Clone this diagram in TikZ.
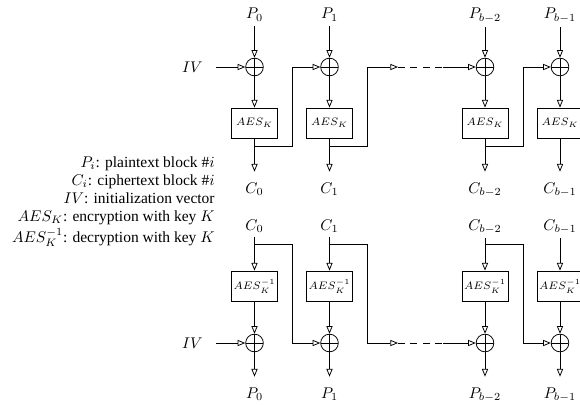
\documentclass[tikz,border=0pt]{standalone}
\usepackage[no-math]{fontspec}
\setmainfont{Liberation Serif}
\usetikzlibrary{arrows.meta}
\begin{document}
\begin{tikzpicture}[x=0.6452pt,y=-0.6452pt, line width=0.5pt,
  arr/.style={-{Triangle[open,length=5pt,width=4pt]}},
  xorn/.style={circle,draw,minimum size=11.4pt,inner sep=0pt,
    path picture={\draw (path picture bounding box.north)--(path picture bounding box.south)
      (path picture bounding box.west)--(path picture bounding box.east);}},
  aesbox/.style={draw,minimum width=29.7pt,minimum height=19.4pt,inner sep=0pt,font=\scriptsize},
  toplab/.style={anchor=base,inner xsep=0pt,inner ysep=2.7pt},
  botlab/.style={anchor=base,inner xsep=0pt,inner ysep=7pt},
  ivlab/.style={anchor=east,inner xsep=8.4pt,inner ysep=0pt},
  leg/.style={anchor=base east,inner sep=0pt},
  dashline/.style={dash pattern=on 4.5pt off 3.5pt}]
\useasboundingbox (0,0) rectangle (580,405);

% legend
\node[leg] (l1) at (215,167.5) {$P_i$: plaintext block \#$i$};
\node[leg] (l2) at (215,185.5) {$C_i$: ciphertext block \#$i$};
\node[leg] (l3) at (215,203.5) {$IV$: initialization vector};
\node[leg] (l4) at (215,221.5) {$AES_K$: encryption with key $K$};
\node[leg] (l5) at (215,242) {$AES_K^{-1}$: decryption with key $K$};

\foreach \i/\x/\s in {0/254.5/0,1/329.5/1,2/485/{b-2},3/560/{b-1}}{
  % encryption
  \node[toplab] (p\i) at (\x,19) {$P_{\s}$};
  \node[xorn] (x\i) at (\x,67) {};
  \node[aesbox] (e\i) at (\x,123) {$AES_K$};
  \node[botlab] (c\i) at (\x,193.5) {$C_{\s}$};
  \draw[arr] (p\i.south) -- (x\i.north);
  \draw[arr] (x\i.south) -- (e\i.north);
  \draw[arr] (e\i.south) -- (c\i.north);
  % decryption
  \node[toplab] (cb\i) at (\x,230) {$C_{\s}$};
  \node[aesbox] (d\i) at (\x,286) {$AES_K^{-1}$};
  \node[xorn] (y\i) at (\x,343) {};
  \node[botlab] (pb\i) at (\x,398.5) {$P_{\s}$};
  \draw[arr] (cb\i.south) -- (d\i.north);
  \draw[arr] (d\i.south) -- (y\i.north);
  \draw[arr] (y\i.south) -- (pb\i.north);
}

% IV inputs
\node[ivlab] (iva) at (216,67) {$IV$};
\draw[arr] (iva.east) -- (x0.west);
\node[ivlab] (ivb) at (216,343) {$IV$};
\draw[arr] (ivb.east) -- (y0.west);

% encryption chaining
\coordinate (f0) at (254.5,146); \coordinate (k0) at (292,67);
\coordinate (f1) at (329.5,146); \coordinate (k1) at (367,67);
\coordinate (f2) at (485,146);   \coordinate (k2) at (523,67);
\coordinate (t1) at (398,67);    \coordinate (g1) at (443,67);
\draw[arr] (f0) -| (k0) -- (x1.west);
\draw[arr] (f1) -| (k1) -- (t1);
\draw[dashline] (t1) -- (g1);
\draw[arr] (g1) -- (x2.west);
\draw[arr] (f2) -| (k2) -- (x3.west);

% decryption chaining
\coordinate (h0) at (254.5,244); \coordinate (m0) at (292,343);
\coordinate (h1) at (329.5,244); \coordinate (m1) at (367,343);
\coordinate (h2) at (485,244);   \coordinate (m2) at (523,343);
\coordinate (u1) at (398,343);   \coordinate (v1) at (443,343);
\draw[arr] (h0) -| (m0) -- (y1.west);
\draw[arr] (h1) -| (m1) -- (u1);
\draw[dashline] (u1) -- (v1);
\draw[arr] (v1) -- (y2.west);
\draw[arr] (h2) -| (m2) -- (y3.west);
\end{tikzpicture}
\end{document}
